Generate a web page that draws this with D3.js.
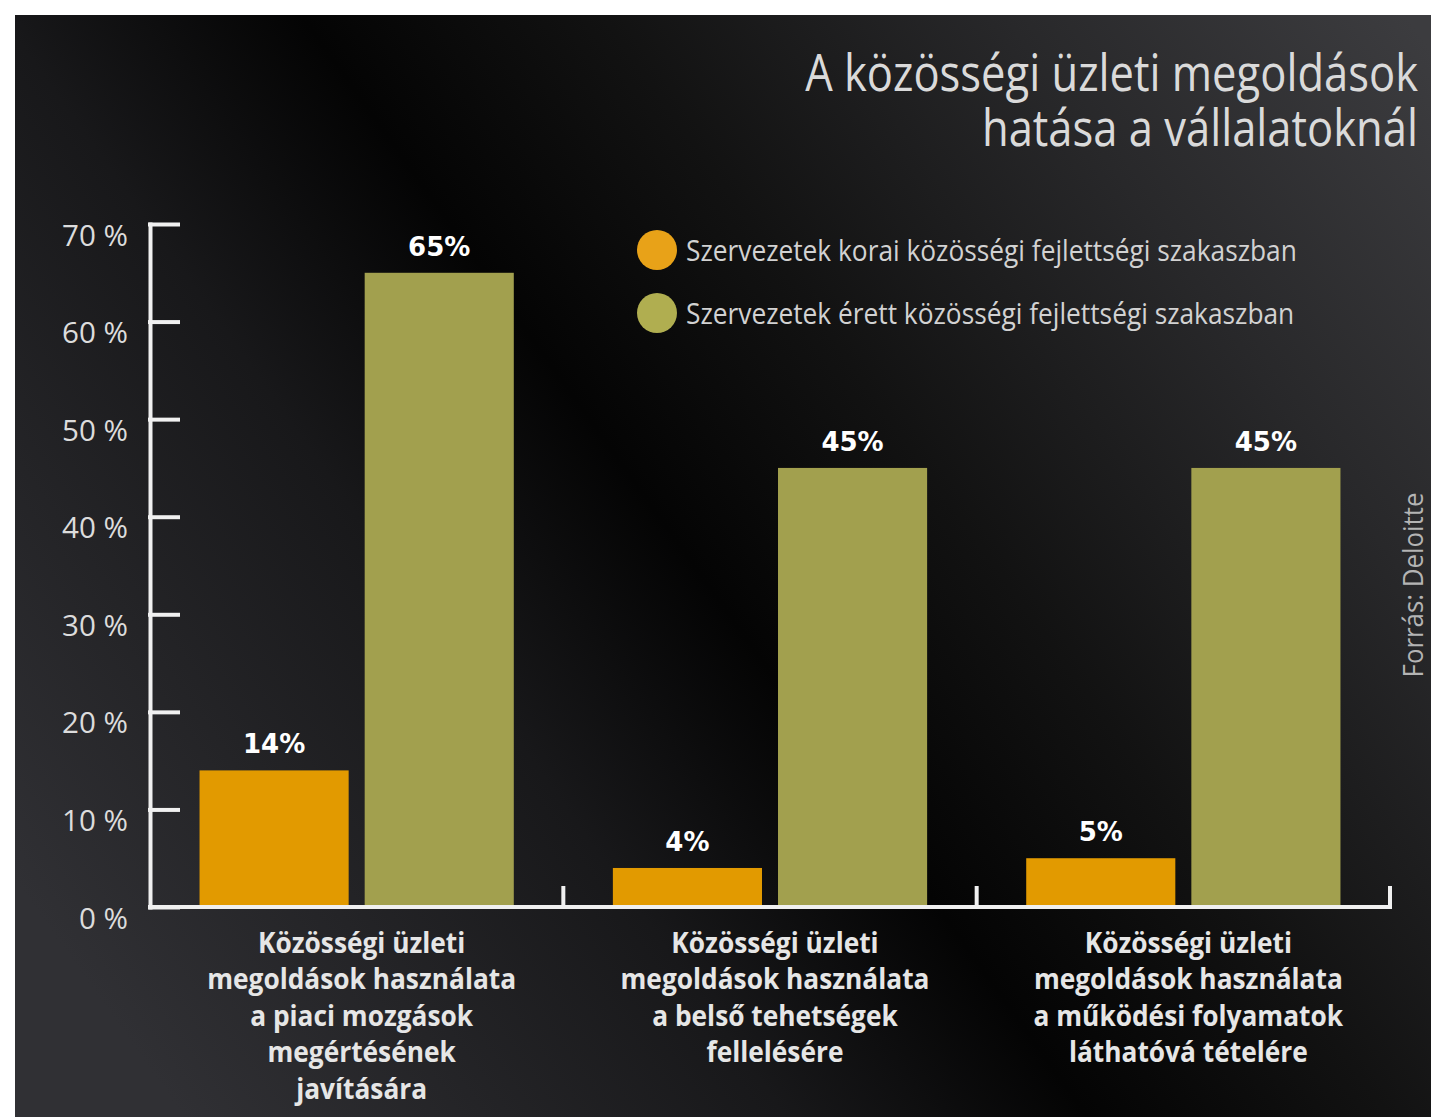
<!DOCTYPE html>
<html>
<head>
<meta charset="utf-8">
<script src="https://cdn.jsdelivr.net/npm/d3@7"></script>
<style>
  body { margin: 0; background: #fff; }
</style>
</head>
<body>
<div id="chart"></div>
<script>
// data
var categories = [
  'Közösségi üzleti megoldások használata a piaci mozgások megértésének javítására',
  'Közösségi üzleti megoldások használata a belső tehetségek fellelésére',
  'Közösségi üzleti megoldások használata a működési folyamatok láthatóvá tételére'
];
var categoryLines = [
  ['Közösségi üzleti', 'megoldások használata', 'a piaci mozgások', 'megértésének', 'javítására'],
  ['Közösségi üzleti', 'megoldások használata', 'a belső tehetségek', 'fellelésére'],
  ['Közösségi üzleti', 'megoldások használata', 'a működési folyamatok', 'láthatóvá tételére']
];
var seriesNames = [
  'Szervezetek korai közösségi fejlettségi szakaszban',
  'Szervezetek érett közösségi fejlettségi szakaszban'
];
var earlyValues = [14, 4, 5];
var matureValues = [65, 45, 45];
var yTicks = [0, 10, 20, 30, 40, 50, 60, 70];
var yTickLabels = ['0 %', '10 %', '20 %', '30 %', '40 %', '50 %', '60 %', '70 %'];
var titleLines = ['A közösségi üzleti megoldások', 'hatása a vállalatoknál'];
var sourceText = 'Forrás: Deloitte';

var width = 1431,
    height = 1117,
    plotLeft = 150,
    plotRight = 1390,
    plotBottom = 907,
    plotTop = 224;

var seriesColors = ['#e29a00', '#a2a04e'],
    legendColors = ['#e8a218', '#b0ae50'],
    axisColor = '#f0f0f0';

var sansFamily = '"Open Sans", "Noto Sans", sans-serif',
    boldFamily = '"DejaVu Sans", Verdana, sans-serif';

var svg = d3.select('#chart')
  .append('svg')
  .attr('width', width)
  .attr('height', height);

// background: white frame + dark diagonal gradient
var grad = svg.append('defs').append('linearGradient')
  .attr('id', 'bg')
  .attr('gradientUnits', 'userSpaceOnUse')
  .attr('x1', 100).attr('y1', 1000)
  .attr('x2', 1431).attr('y2', 50);
[[0, '#303034'], [0.3, '#18181a'], [0.45, '#040404'], [0.6, '#121212'], [0.8, '#28282a'], [1, '#3c3c3f']]
  .forEach(function(s) {
    grad.append('stop').attr('offset', s[0]).attr('stop-color', s[1]);
  });

svg.append('rect').attr('width', width).attr('height', height).attr('fill', '#fff');
svg.append('rect')
  .attr('x', 15).attr('y', 15)
  .attr('width', width - 15).attr('height', height - 15)
  .attr('fill', 'url(#bg)');

// measure helper for squeezing text to a condensed look
function measure(str, size, weight, family) {
  var t = svg.append('text')
    .attr('font-family', family)
    .attr('font-size', size)
    .attr('font-weight', weight)
    .text(str);
  var w = t.node().getComputedTextLength();
  t.remove();
  return w;
}
function squeeze(sel, k) {
  sel.each(function() {
    var t = d3.select(this);
    var x = +t.attr('x') || 0;
    t.attr('transform', 'translate(' + x + ',0) scale(' + k + ',1) translate(' + (-x) + ',0)');
  });
}

// scales
var x0 = d3.scaleBand().domain(categories).range([plotLeft, plotRight]);
var x1 = d3.scaleBand().domain(seriesNames).range([0, x0.bandwidth()])
  .paddingInner(0.097).paddingOuter(0.3);
var y = d3.scaleLinear().domain([0, 70]).range([plotBottom, plotTop]);

var rows = categories.map(function(c, i) {
  return { cat: c, vals: [earlyValues[i], matureValues[i]] };
});

// bars
var groups = svg.append('g').selectAll('g')
  .data(rows)
  .join('g')
  .attr('transform', function(d) { return 'translate(' + x0(d.cat) + ',0)'; });

groups.selectAll('rect')
  .data(function(d) { return d.vals.map(function(v, j) { return { s: seriesNames[j], v: v, j: j }; }); })
  .join('rect')
  .attr('x', function(d) { return x1(d.s); })
  .attr('y', function(d) { return y(d.v); })
  .attr('width', x1.bandwidth())
  .attr('height', function(d) { return plotBottom - y(d.v); })
  .attr('fill', function(d) { return seriesColors[d.j]; });

groups.selectAll('text')
  .data(function(d) { return d.vals.map(function(v, j) { return { s: seriesNames[j], v: v }; }); })
  .join('text')
  .attr('x', function(d) { return x1(d.s) + x1.bandwidth() / 2; })
  .attr('y', function(d) { return y(d.v) - 17; })
  .attr('text-anchor', 'middle')
  .attr('font-family', boldFamily)
  .attr('font-weight', 'bold')
  .attr('font-size', '26px')
  .attr('fill', '#fff')
  .text(function(d) { return d.v + '%'; });

// y axis
var yAxis = d3.axisLeft(y)
  .tickValues(yTicks)
  .tickSizeInner(-28)
  .tickSizeOuter(0)
  .tickPadding(22)
  .tickFormat(function(d, i) { return yTickLabels[i]; });

var yG = svg.append('g')
  .attr('transform', 'translate(' + plotLeft + ',0)')
  .call(yAxis);
yG.selectAll('path, line')
  .attr('stroke', axisColor)
  .attr('stroke-width', 4)
  .attr('stroke-linecap', 'square');
var yk = 66 / measure('70 %', 30, 'normal', sansFamily);
yG.selectAll('text')
  .attr('fill', '#dcdcdc')
  .attr('font-family', sansFamily)
  .attr('font-size', 30)
  .attr('dy', '0.7em');
squeeze(yG.selectAll('text'), yk);

// x axis
var xG = svg.append('g');
xG.append('line')
  .attr('x1', plotLeft).attr('x2', plotRight)
  .attr('y1', plotBottom).attr('y2', plotBottom)
  .attr('stroke', axisColor)
  .attr('stroke-width', 4)
  .attr('stroke-linecap', 'square');
xG.selectAll('.tick')
  .data(categories)
  .join('line')
  .attr('class', 'tick')
  .attr('x1', function(d) { return x0(d) + x0.bandwidth(); })
  .attr('x2', function(d) { return x0(d) + x0.bandwidth(); })
  .attr('y1', plotBottom)
  .attr('y2', plotBottom - 19)
  .attr('stroke', axisColor)
  .attr('stroke-width', 4)
  .attr('stroke-linecap', 'square');

// category labels
var ck = 309 / measure('megoldások használata', 29, 'bold', sansFamily);
var catText = svg.append('g').selectAll('text')
  .data(categories)
  .join('text')
  .attr('x', function(d) { return x0(d) + x0.bandwidth() / 2 + 5; })
  .attr('y', 953)
  .attr('text-anchor', 'middle')
  .attr('font-family', sansFamily)
  .attr('font-weight', 'bold')
  .attr('font-size', 29)
  .attr('fill', '#e6e6e6');
catText.each(function(d, i) {
  var t = d3.select(this);
  var cx = t.attr('x');
  categoryLines[i].forEach(function(line, j) {
    t.append('tspan')
      .attr('x', cx)
      .attr('dy', j === 0 ? 0 : 36.5)
      .text(line);
  });
});
squeeze(catText, ck);

// legend
var lk = 611 / measure(seriesNames[0], 30, 'normal', sansFamily);
var legend = svg.append('g').selectAll('g')
  .data(seriesNames)
  .join('g')
  .attr('transform', function(d, i) { return 'translate(657,' + (250 + i * 63) + ')'; });
legend.append('circle')
  .attr('r', 20)
  .attr('fill', function(d, i) { return legendColors[i]; });
var legendText = legend.append('text')
  .attr('x', 29)
  .attr('y', 11)
  .attr('font-family', sansFamily)
  .attr('font-size', 30)
  .attr('fill', '#d2d2d2')
  .text(function(d) { return d; });
squeeze(legendText, lk);

// title
var tk = 613 / measure(titleLines[0], 51, 'normal', sansFamily);
var title = svg.append('g').selectAll('text')
  .data(titleLines)
  .join('text')
  .attr('x', 1418)
  .attr('y', function(d, i) { return 91 + i * 55; })
  .attr('text-anchor', 'end')
  .attr('font-family', sansFamily)
  .attr('font-size', 51)
  .attr('fill', '#dadada')
  .text(function(d) { return d; });
squeeze(title, tk);

// source, rotated
var sk = 185 / measure(sourceText, 27, 'normal', sansFamily);
svg.append('text')
  .attr('transform', 'translate(1423,585) rotate(-90) scale(' + sk + ',1)')
  .attr('text-anchor', 'middle')
  .attr('font-family', sansFamily)
  .attr('font-size', 27)
  .attr('fill', '#b4b4b4')
  .text(sourceText);
</script>
</body>
</html>
